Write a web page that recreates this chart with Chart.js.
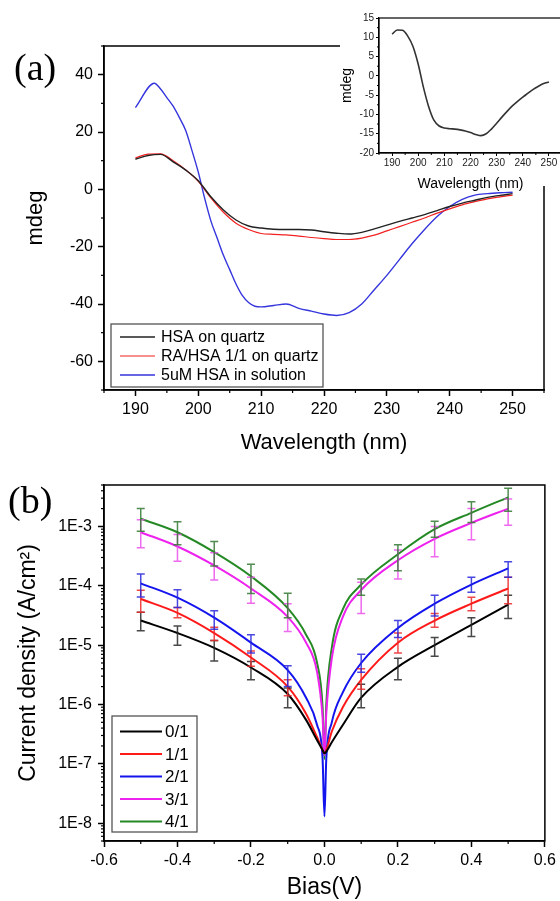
<!DOCTYPE html>
<html>
<head>
<meta charset="utf-8">
<script src="https://cdn.jsdelivr.net/npm/chart.js@4.4.1/dist/chart.umd.min.js"></script>
<style>
  html, body { margin: 0; padding: 0; background: #fff; overflow: hidden; }
  #wrap { position: relative; width: 560px; height: 901px; }
  canvas { position: absolute; }
  #chartA { left: 0; top: 0; width: 560px; height: 460px; }
  #inset { left: 340px; top: 0; width: 222px; height: 198px; }
  #chartB { left: 0; top: 460px; width: 560px; height: 441px; }
  .panel { position: absolute; font-family: "Liberation Serif", "Times New Roman", serif; font-size: 38px; line-height: 1; }
</style>
</head>
<body>
<div id="wrap">
  <canvas id="chartA" width="560" height="460"></canvas>
  <canvas id="inset" width="222" height="198"></canvas>
  <canvas id="chartB" width="560" height="441"></canvas>
  <div class="panel" style="left:14px; top:48px;">(a)</div>
  <div class="panel" style="left:8px; top:481px;">(b)</div>
</div>
<script>
// ---- Panel (a): espectros CD ----
const wl = [190,192,194,196,198,200,202,204,206,208,210,212,214,216,218,220,222,224,226,228,230,232,234,236,238,240,242,244,246,248,250];
const hsaQuartz = [10.5,11.8,12.2,9.6,6.7,3,-2.6,-7.2,-10.7,-12.8,-13.5,-13.9,-14,-14,-14.2,-14.8,-15.3,-15.6,-15,-13.8,-12.5,-11.2,-10,-8.8,-7.4,-6,-4.8,-3.8,-2.8,-2.1,-1.5];
const raHsa = [11,12.3,12.4,10,6.8,2.8,-3,-8,-11.8,-14,-15.4,-15.7,-15.9,-16.3,-16.8,-17.2,-17.5,-17.5,-17,-16,-14.5,-13,-11.5,-10,-8.3,-6.8,-5.4,-4.3,-3.3,-2.6,-2];
const wlBlue = [190,193,194,195,196,197,198,199,200,201,202,203,204,205,206,207,208,209,210,212,214,216,218,220,222,224,226,228,230,232,234,236,238,240,242,244,246,248,250];
const hsaSolution = [28.5,37,35,32,29,25,20.5,13.5,6,-3,-11,-17,-23,-28,-33,-37,-39.5,-40.8,-41,-40.5,-40,-41.5,-42.5,-43.5,-44,-43,-40,-35,-30,-24.5,-19,-14,-9.5,-6,-3.5,-2,-1.5,-1.2,-1];
const labelsA = ['HSA on quartz', 'RA/HSA 1/1 on quartz', '5uM HSA in solution'];
const wlTicks = [190,200,210,220,230,240,250];
const mdegTicks = [-60,-40,-20,0,20,40];

// inset
const insetCd = [10.8,11.9,11.8,10.3,7.6,3,-3,-8,-11.5,-13,-13.5,-13.7,-13.8,-14,-14.3,-14.7,-15.2,-15.5,-15,-13.8,-12.3,-10.7,-9.2,-7.8,-6.6,-5.5,-4.5,-3.5,-2.7,-2,-1.6];
const insetYTicks = [-20,-15,-10,-5,0,5,10,15];

// ---- Panel (b): curvas J-V ----
const biasCurve = [-0.5,-0.4,-0.3,-0.2,-0.1,-0.05,-0.02,-0.005,0,0.005,0.02,0.05,0.1,0.2,0.3,0.4,0.5];
const j01 = [2.6e-5,1.6e-5,9e-6,4.2e-6,1.5e-6,5.5e-7,2.5e-7,1.7e-7,1.5e-7,1.6e-7,2.3e-7,4.5e-7,1.3e-6,4.3e-6,1.0e-5,2.2e-5,4.8e-5];
const j11 = [6e-5,3.5e-5,1.6e-5,6.2e-6,2e-6,7e-7,2.8e-7,1.7e-7,1.5e-7,1.7e-7,3.5e-7,9e-7,2.6e-6,1.1e-5,2.6e-5,5e-5,9e-5];
const j21 = [1.1e-4,6.3e-5,2.9e-5,1.1e-5,3.8e-6,1.3e-6,4.5e-7,1.2e-7,1.3e-8,1.2e-7,5e-7,1.6e-6,5e-6,1.95e-5,5e-5,1.05e-4,1.97e-4];
const j31 = [8e-4,4.6e-4,2.2e-4,9e-5,3e-5,1.1e-5,3.5e-6,6e-7,1.4e-7,7e-7,6e-6,3e-5,8.5e-5,2.7e-4,6.2e-4,1.15e-3,2e-3];
const j41 = [1.35e-3,8e-4,3.7e-4,1.45e-4,4.2e-5,1.5e-5,5e-6,9e-7,1.2e-7,1e-6,9e-6,4e-5,1.05e-4,3.4e-4,9e-4,1.7e-3,3.1e-3];

// barras de error (valor bajo / alto)
const errX = [-0.5,-0.4,-0.3,-0.2,-0.1,0.1,0.2,0.3,0.4,0.5];
const lo01 = [1.75e-5,1.0e-5,5.4e-6,2.6e-6,8.8e-7,8.8e-7,2.6e-6,6.5e-6,1.4e-5,2.8e-5];
const hi01 = [3.6e-5,2.1e-5,1.2e-5,5.3e-6,1.9e-6,2.2e-6,6e-6,1.35e-5,2.9e-5,6.9e-5];
const lo11 = [3.6e-5,2.9e-5,1.2e-5,4.4e-6,1.4e-6,1.8e-6,7.4e-6,2.0e-5,3.8e-5,5e-5];
const hi11 = [8.4e-5,4.3e-5,2.0e-5,8e-6,2.6e-6,4e-6,1.6e-5,3.4e-5,6.4e-5,1.4e-4];
const lo21 = [6.5e-5,4.3e-5,1.85e-5,7.4e-6,2e-6,3.5e-6,1.35e-5,3.1e-5,7.8e-5,1.4e-4];
const hi21 = [1.58e-4,8.6e-5,3.8e-5,1.5e-5,4.5e-6,7e-6,2.6e-5,6.9e-5,1.4e-4,2.55e-4];
const lo31 = [4.4e-4,2.6e-4,1.25e-4,5.1e-5,1.7e-5,3.4e-5,1.3e-4,3.1e-4,6e-4,1.05e-3];
const hi31 = [1.3e-3,7.3e-4,3.6e-4,1.4e-4,5e-5,1.15e-4,4e-4,1e-3,2e-3,2.9e-3];
const lo41 = [8.3e-4,4.9e-4,2.15e-4,7.4e-5,2.9e-5,6.9e-5,1.8e-4,6.6e-4,1.17e-3,1.8e-3];
const hi41 = [2.0e-3,1.2e-3,5.6e-4,2.3e-4,7.5e-5,1.3e-4,4.9e-4,1.23e-3,2.6e-3,4.4e-3];
const labelsB = ['0/1', '1/1', '2/1', '3/1', '4/1'];
const biasTicks = [-0.6,-0.4,-0.2,0,0.2,0.4,0.6];
const decadeTicks = [1e-8,1e-7,1e-6,1e-5,1e-4,1e-3];

const SANS = '"Liberation Sans", Arial, Helvetica, sans-serif';
Chart.defaults.font.family = SANS;
Chart.defaults.color = '#000';

function xy(xs, ys) { return xs.map((x, i) => ({ x: x, y: ys[i] })); }
function setTicks(values) { return function(scale) { scale.ticks = values.map(v => ({ value: v })); }; }
function midpoints(arr) {
  const out = [];
  for (let i = 0; i < arr.length - 1; i++) out.push((arr[i] + arr[i + 1]) / 2);
  return out;
}

// marco completo alrededor del área del gráfico
const frame = {
  id: 'frame',
  afterDraw(chart, args, o) {
    const a = chart.chartArea, ctx = chart.ctx;
    ctx.save();
    ctx.strokeStyle = '#000';
    ctx.lineWidth = o.width || 1.5;
    ctx.strokeRect(a.left, a.top, a.right - a.left, a.bottom - a.top);
    ctx.restore();
  }
};

// ticks menores hacia afuera
const minorTicks = {
  id: 'minorTicks',
  afterDraw(chart, args, o) {
    const a = chart.chartArea, ctx = chart.ctx;
    const len = o.length || 3;
    ctx.save();
    ctx.strokeStyle = '#000';
    ctx.lineWidth = o.width || 1.2;
    (o.x || []).forEach(v => {
      const p = chart.scales.x.getPixelForValue(v);
      ctx.beginPath(); ctx.moveTo(p, a.bottom); ctx.lineTo(p, a.bottom + len); ctx.stroke();
    });
    (o.y || []).forEach(v => {
      const p = chart.scales.y.getPixelForValue(v);
      if (p < a.top - 0.5 || p > a.bottom + 0.5) return;
      ctx.beginPath(); ctx.moveTo(a.left, p); ctx.lineTo(a.left - len, p); ctx.stroke();
    });
    ctx.restore();
  }
};

// leyenda con recuadro dentro del área
const boxLegend = {
  id: 'boxLegend',
  afterDraw(chart, args, o) {
    if (!o.w) return;
    const ctx = chart.ctx;
    ctx.save();
    ctx.fillStyle = '#fff';
    ctx.fillRect(o.x, o.y, o.w, o.h);
    ctx.strokeStyle = '#555';
    ctx.lineWidth = 1.3;
    ctx.strokeRect(o.x, o.y, o.w, o.h);
    ctx.font = o.font;
    ctx.textBaseline = 'middle';
    chart.data.datasets.forEach((d, i) => {
      const cy = o.y + o.first + i * o.row;
      ctx.strokeStyle = d.borderColor;
      ctx.lineWidth = d.borderWidth;
      ctx.beginPath(); ctx.moveTo(o.x + o.l0, cy); ctx.lineTo(o.x + o.l1, cy); ctx.stroke();
      ctx.fillStyle = '#000';
      ctx.fillText(d.label, o.x + o.tx, cy + 1);
    });
    ctx.restore();
  }
};

// barras de error con tapas
const errorBars = {
  id: 'errorBars',
  afterDatasetsDraw(chart, args, o) {
    if (!o.sets) return;
    const ctx = chart.ctx, xs = chart.scales.x, ys = chart.scales.y;
    ctx.save();
    ctx.lineWidth = 1.5;
    o.sets.forEach(s => {
      ctx.strokeStyle = s.color;
      o.x.forEach((v, i) => {
        const px = xs.getPixelForValue(v);
        const p1 = ys.getPixelForValue(s.lo[i]);
        const p2 = ys.getPixelForValue(s.hi[i]);
        ctx.beginPath();
        ctx.moveTo(px, p1); ctx.lineTo(px, p2);
        ctx.moveTo(px - 4, p1); ctx.lineTo(px + 4, p1);
        ctx.moveTo(px - 4, p2); ctx.lineTo(px + 4, p2);
        ctx.stroke();
      });
    });
    ctx.restore();
  }
};

// fondo blanco del recuadro insertado
const whiteBox = {
  id: 'whiteBox',
  beforeDraw(chart, args, o) {
    if (!o.h) return;
    const ctx = chart.ctx;
    ctx.save();
    ctx.fillStyle = '#fff';
    ctx.fillRect(0, 0, chart.width, o.h);
    ctx.restore();
  }
};

Chart.register(frame, minorTicks, boxLegend, errorBars, whiteBox);

function axisBase(extra) {
  return Object.assign({
    grid: { drawOnChartArea: false, tickLength: 6, tickColor: '#000', tickWidth: 1.5 },
    border: { color: '#000', width: 1.5 }
  }, extra);
}

function line(label, xs, ys, color, width) {
  return {
    label: label,
    data: xy(xs, ys),
    borderColor: color,
    borderWidth: width,
    pointRadius: 0,
    fill: false,
    cubicInterpolationMode: 'monotone'
  };
}

// ---- gráfico (a) ----
new Chart(document.getElementById('chartA'), {
  type: 'line',
  data: {
    datasets: [
      line(labelsA[0], wl, hsaQuartz, '#222222', 1.4),
      line(labelsA[1], wl, raHsa, '#f22020', 1.2),
      line(labelsA[2], wlBlue, hsaSolution, '#3535dd', 1.4)
    ]
  },
  options: {
    responsive: false,
    animation: false,
    layout: { padding: { left: 0, right: 16, top: 46, bottom: 0 } },
    plugins: {
      legend: { display: false },
      tooltip: { enabled: false },
      minorTicks: { x: midpoints([180].concat(wlTicks, [260])), y: midpoints([-80].concat(mdegTicks, [60])), length: 3 },
      boxLegend: { x: 111, y: 324, w: 212, h: 63, first: 13, row: 19, l0: 9, l1: 44, tx: 50, font: '16px ' + SANS }
    },
    scales: {
      x: axisBase({
        type: 'linear', min: 185, max: 255,
        afterBuildTicks: setTicks(wlTicks),
        afterFit: s => { s.height = 70; },
        ticks: { font: { size: 16 }, padding: 4, maxRotation: 0 },
        title: { display: true, text: 'Wavelength (nm)', font: { size: 22 }, padding: { top: 0, bottom: 4 } }
      }),
      y: axisBase({
        type: 'linear', min: -70, max: 50,
        afterBuildTicks: setTicks(mdegTicks),
        afterFit: s => { s.width = 104; },
        ticks: { font: { size: 16 }, padding: 5 },
        title: { display: true, text: 'mdeg', font: { size: 22 }, padding: { top: 23, bottom: 0 } }
      })
    }
  }
});

// ---- recuadro insertado ----
new Chart(document.getElementById('inset'), {
  type: 'line',
  data: { datasets: [line('', wl, insetCd, '#333333', 1.6)] },
  options: {
    responsive: false,
    animation: false,
    layout: { padding: { left: 0, right: 0, top: 18, bottom: 0 } },
    plugins: {
      legend: { display: false },
      tooltip: { enabled: false },
      whiteBox: { h: 186 },
      minorTicks: { x: midpoints([180].concat(wlTicks, [260])), y: midpoints(insetYTicks), length: 2, width: 1 },
      frame: { width: 1.2 }
    },
    scales: {
      x: {
        type: 'linear', min: 185, max: 255,
        afterBuildTicks: setTicks(wlTicks),
        afterFit: s => { s.height = 45; },
        grid: { drawOnChartArea: false, tickLength: 3, tickColor: '#000', tickWidth: 1 },
        border: { color: '#000', width: 1.2 },
        ticks: { font: { size: 10 }, padding: 1, maxRotation: 0, color: '#222' },
        title: { display: true, text: 'Wavelength (nm)', font: { size: 14 }, padding: { top: 0, bottom: 5 } }
      },
      y: {
        type: 'linear', min: -20, max: 15,
        afterBuildTicks: setTicks(insetYTicks),
        afterFit: s => { s.width = 39; },
        grid: { drawOnChartArea: false, tickLength: 3, tickColor: '#000', tickWidth: 1 },
        border: { color: '#000', width: 1.2 },
        ticks: { font: { size: 10 }, padding: 2, color: '#222' },
        title: { display: true, text: 'mdeg', font: { size: 14, lineHeight: 1 }, padding: { top: 0, bottom: 0 } }
      }
    }
  }
});

// ---- gráfico (b) ----
new Chart(document.getElementById('chartB'), {
  type: 'line',
  data: {
    datasets: [
      line(labelsB[0], biasCurve, j01, '#000000', 2),
      line(labelsB[1], biasCurve, j11, '#ff1a1a', 2),
      line(labelsB[2], biasCurve, j21, '#1414ee', 2),
      line(labelsB[3], biasCurve, j31, '#ee22ee', 2),
      line(labelsB[4], biasCurve, j41, '#258a25', 2)
    ]
  },
  options: {
    responsive: false,
    animation: false,
    layout: { padding: { left: 0, right: 15, top: 25, bottom: 0 } },
    plugins: {
      legend: { display: false },
      tooltip: { enabled: false },
      minorTicks: {
        x: midpoints(biasTicks),
        y: decadeTicks.concat([1e-9, 1e-2]).flatMap(d => [2,3,4,5,6,7,8,9].map(k => k * d)),
        length: 3
      },
      errorBars: {
        x: errX,
        sets: [
          { color: 'rgba(40,40,40,0.85)', lo: lo01, hi: hi01 },
          { color: 'rgba(235,40,40,0.85)', lo: lo11, hi: hi11 },
          { color: 'rgba(40,40,220,0.85)', lo: lo21, hi: hi21 },
          { color: 'rgba(235,80,235,0.85)', lo: lo31, hi: hi31 },
          { color: 'rgba(50,120,50,0.85)', lo: lo41, hi: hi41 }
        ]
      },
      boxLegend: { x: 112, y: 256, w: 85, h: 116, first: 15.5, row: 22.5, l0: 8, l1: 50, tx: 53, font: '17px ' + SANS }
    },
    scales: {
      x: axisBase({
        type: 'linear', min: -0.6, max: 0.6,
        afterBuildTicks: setTicks(biasTicks),
        afterFit: s => { s.height = 60; },
        ticks: { font: { size: 16 }, padding: 4, maxRotation: 0, callback: v => v.toFixed(1) },
        title: { display: true, text: 'Bias(V)', font: { size: 23, lineHeight: 1 }, padding: { top: 0, bottom: 2 } }
      }),
      y: axisBase({
        type: 'logarithmic', min: 5e-9, max: 5e-3,
        afterBuildTicks: setTicks(decadeTicks),
        afterFit: s => { s.width = 104; },
        ticks: { font: { size: 16 }, padding: 6, callback: v => '1E' + Math.round(Math.log10(v)) },
        title: { display: true, text: 'Current density (A/cm²)', font: { size: 23 }, padding: { top: 15, bottom: 0 } }
      })
    }
  }
});
</script>
</body>
</html>
